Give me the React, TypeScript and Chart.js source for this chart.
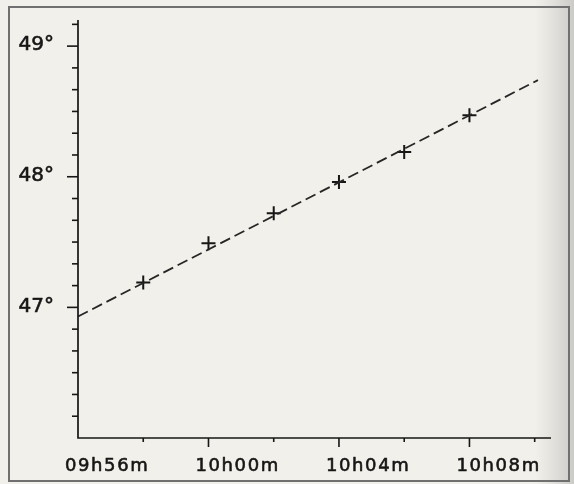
import React, { useEffect, useRef } from 'react';
import { Chart, registerables } from 'chart.js';

Chart.register(...registerables);

// Time axis: minutes after 09h56m
const timeTickLabels = ['09h56m', '10h00m', '10h04m', '10h08m'];
const timeTickMinutes = [0, 4, 8, 12];
const timeMinorStep = 2;
const timeMin = 0;
const timeMax = 14.5;

// Latitude axis (degrees)
const degreeTickValues = [47, 48, 49];
const degreeTickLabels = ['47°', '48°', '49°'];
const degreeMinorStep = 1 / 6;
const degreeMin = 46;
const degreeMax = 49.2;

// Observations (crosses)
const obsMinutes = [2, 4, 6, 8, 10, 12];
const obsLatitude = [47.19, 47.49, 47.72, 47.96, 48.19, 48.47];

// Fitted dashed line
const fitMinutes = [0, 14.1];
const fitLatitude = [46.93, 48.74];

const INK = '#161616';

const paperPlugin = {
  id: 'paper',
  beforeDraw(chart: any) {
    const { ctx, width, height } = chart;
    ctx.save();
    ctx.fillStyle = '#f2f0ea';
    ctx.fillRect(0, 0, width, height);
    const g = ctx.createLinearGradient(535, 0, width, 0);
    g.addColorStop(0, 'rgba(200,200,198,0)');
    g.addColorStop(1, 'rgba(190,190,188,0.75)');
    ctx.fillStyle = g;
    ctx.fillRect(535, 0, width - 535, height);
    ctx.strokeStyle = '#707070';
    ctx.lineWidth = 2;
    ctx.strokeRect(9, 7, 560, 474);
    ctx.restore();
  },
  afterDraw(chart: any) {
    const { ctx } = chart;
    const xs = chart.scales.x;
    const ys = chart.scales.y;
    const x0 = xs.getPixelForValue(timeMin);
    const x1 = xs.getPixelForValue(timeMax);
    const y0 = ys.getPixelForValue(degreeMin);
    const y1 = ys.getPixelForValue(degreeMax);
    ctx.save();
    ctx.strokeStyle = INK;
    ctx.lineWidth = 1.7;
    ctx.beginPath();
    ctx.moveTo(x0, y1);
    ctx.lineTo(x0, y0);
    ctx.lineTo(x1, y0);
    ctx.stroke();

    // y ticks
    ctx.lineWidth = 1.6;
    const nY = Math.round((degreeMax - degreeMin) / degreeMinorStep);
    for (let i = 1; i <= nY; i++) {
      const v = degreeMin + i * degreeMinorStep;
      if (v > degreeMax + 1e-9) break;
      const py = ys.getPixelForValue(v);
      const major = Math.abs(v - Math.round(v)) < 1e-6;
      ctx.beginPath();
      ctx.moveTo(x0 - (major ? 11 : 6), py);
      ctx.lineTo(x0, py);
      ctx.stroke();
    }
    // x ticks
    for (let m = timeMin + timeMinorStep; m <= timeMax; m += timeMinorStep) {
      const px = xs.getPixelForValue(m);
      const major = m % 4 === 0;
      ctx.beginPath();
      ctx.moveTo(px, y0);
      ctx.lineTo(px, y0 + (major ? 9 : 4));
      ctx.stroke();
    }

    // labels (fill + thin stroke to mimic the heavier printed lettering)
    ctx.fillStyle = INK;
    ctx.strokeStyle = INK;
    ctx.lineWidth = 0.6;
    ctx.lineJoin = 'round';
    ctx.font = '20px "DejaVu Sans", sans-serif';
    ctx.textAlign = 'right';
    ctx.textBaseline = 'middle';
    degreeTickValues.forEach((v, i) => {
      const py = ys.getPixelForValue(v) - 1;
      ctx.fillText(degreeTickLabels[i], 54, py);
      ctx.strokeText(degreeTickLabels[i], 54, py);
    });
    ctx.font = '18px "DejaVu Sans", sans-serif';
    (ctx as any).letterSpacing = '1.6px';
    ctx.textAlign = 'left';
    timeTickMinutes.forEach((m, i) => {
      const px = xs.getPixelForValue(m) - 13;
      ctx.fillText(timeTickLabels[i], px, 466);
      ctx.strokeText(timeTickLabels[i], px, 466);
    });
    ctx.restore();
  },
};

export default function App() {
  const ref = useRef<HTMLCanvasElement>(null);
  useEffect(() => {
    if (!ref.current) return;
    const chart = new Chart(ref.current, {
      type: 'scatter',
      data: {
        datasets: [
          {
            type: 'line',
            data: fitMinutes.map((x, i) => ({ x, y: fitLatitude[i] })),
            borderColor: '#262626',
            borderWidth: 1.8,
            borderDash: [11, 5],
            pointRadius: 0,
            fill: false,
            clip: false as any,
          },
          {
            type: 'scatter',
            data: obsMinutes.map((x, i) => ({ x, y: obsLatitude[i] })),
            pointStyle: 'cross',
            pointRadius: 7,
            borderColor: INK,
            backgroundColor: INK,
            borderWidth: 2,
            clip: false as any,
          },
        ],
      },
      options: {
        animation: false,
        responsive: false,
        events: [],
        layout: { padding: { left: 78, right: 23, top: 20, bottom: 46 } },
        scales: {
          x: { type: 'linear', min: timeMin, max: timeMax, display: false },
          y: { type: 'linear', min: degreeMin, max: degreeMax, display: false },
        },
        plugins: { legend: { display: false }, tooltip: { enabled: false } },
      },
      plugins: [paperPlugin],
    });
    return () => chart.destroy();
  }, []);
  return (
    <div style={{ position: 'fixed', left: 0, top: 0, width: 574, height: 484 }}>
      <canvas ref={ref} width={574} height={484} style={{ display: 'block' }} />
    </div>
  );
}
